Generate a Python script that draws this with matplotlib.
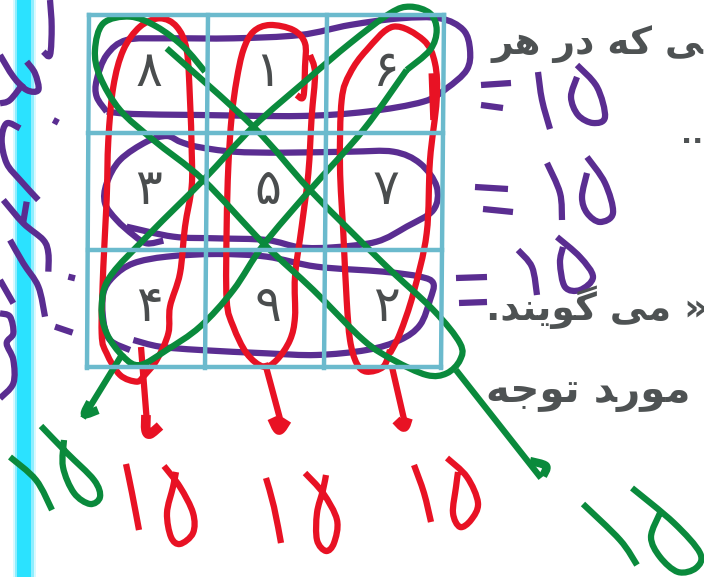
import numpy as np
import matplotlib
matplotlib.use('Agg')
import matplotlib.pyplot as plt
from matplotlib.path import Path
from matplotlib.patches import PathPatch

# digits of the magic square, row by row
digits = [['۸', '۱', '۶'], ['۳', '۵', '۷'], ['۴', '۹', '۲']]
digit_x = [149, 268, 386]
digit_y = [72, 190, 307]

# printed text, glyphs in visual order because matplotlib does no shaping
text_lines = [
    'ﺮﻫ ﺭﺩ ﻪﮐ ﯽ',
    '..',
    '.ﺪﻨﯾﻮﮔ ﯽﻣ »ﺲ',
    'ﻪﺟﻮﺗ ﺪﺭﻮﻣ',
]
text_x = [491, 681, 486, 486]
text_y = [54, 143, 320, 402]
text_size = [27, 21, 27, 29]

# table lines in image pixels
grid_v = [[(89, 15), (87, 368)], [(208, 15), (205, 368)], [(327, 15), (324, 368)], [(444, 15), (441, 368)]]
grid_h = [[(89, 15), (444, 15)], [(88, 133), (443, 133)], [(88, 250), (442, 250)], [(87, 367), (441, 367)]]

# hand strokes inside the table, read at 3x
purple_rows = [
    [(320, 335), (290, 290), (290, 240), (320, 165), (380, 120), (500, 115), (700, 115), (900, 105), (1050, 75),
     (1200, 55), (1320, 55), (1390, 90), (1410, 150), (1400, 210), (1340, 265), (1270, 305), (1100, 335), (900, 348),
     (600, 345), (400, 342), (320, 335)],
    [(490, 722), (440, 730), (400, 705), (350, 660), (315, 610), (320, 550), (360, 480), (440, 425), (500, 408),
     (540, 425), (590, 440), (700, 455), (850, 458), (1050, 455), (1180, 455), (1260, 490), (1310, 560), (1300, 630),
     (1220, 680), (1130, 725), (1000, 742), (900, 742), (800, 720), (650, 715), (520, 710), (380, 680)],
    [(400, 1020), (480, 1040), (600, 1050), (800, 1060), (950, 1065), (1100, 1050), (1200, 1020), (1260, 975),
     (1290, 900), (1300, 850), (1260, 830), (1150, 815), (950, 800), (800, 770), (650, 762), (500, 770), (400, 790),
     (340, 830), (310, 880), (310, 960), (330, 1020), (390, 1050)],
]
red_cols = [
    [(430, 1130), (410, 1145), (360, 1125), (320, 1060), (305, 1000), (310, 800), (320, 600), (325, 420), (340, 260),
     (370, 150), (420, 80), (480, 55), (530, 80), (560, 150), (570, 300), (575, 450), (575, 560), (555, 680),
     (540, 820), (510, 920), (505, 1000), (470, 1080), (430, 1130)],
    [(890, 285), (910, 290), (915, 200), (915, 130), (880, 90), (810, 75), (760, 95), (730, 150), (710, 240),
     (695, 350), (685, 500), (680, 680), (680, 900), (700, 980), (740, 1060), (790, 1100), (830, 1080), (870, 1020),
     (885, 950), (885, 830), (905, 680), (925, 520), (935, 350), (945, 220), (930, 165)],
    [(1170, 1050), (1150, 1100), (1100, 1115), (1070, 1090), (1050, 1020), (1040, 900), (1030, 700), (1020, 500),
     (1025, 300), (1050, 220), (1100, 150), (1180, 80), (1270, 120), (1305, 190), (1310, 300), (1290, 480),
     (1280, 700), (1240, 880), (1200, 1000), (1170, 1060)],
    [(1295, 220), (1300, 360)],
]
green_diags = [
    [(500, 145), (760, 380), (930, 570), (1150, 790), (1300, 930), (1380, 1030), (1380, 1080), (1340, 1120),
     (1280, 1125), (1180, 1080), (1090, 1020), (940, 870), (790, 730), (610, 540), (460, 420), (360, 330), (300, 230),
     (285, 150), (310, 70), (390, 50), (470, 80), (550, 140), (615, 215)],
    [(1220, 210), (1290, 150), (1310, 90), (1290, 40), (1230, 20), (1170, 40), (1050, 130), (920, 240), (760, 380),
     (610, 540), (450, 700), (330, 830), (305, 920), (320, 1000), (370, 1070), (420, 1095), (500, 1050), (600, 980),
     (700, 870), (790, 735), (930, 570), (1090, 390), (1220, 210)],
]
purple_left = [
    [(150, 0), (155, 80), (150, 165), (130, 155)],
    [(0, 165), (40, 230), (80, 270), (115, 270), (105, 220), (80, 185)],
    [(0, 310), (30, 300), (70, 250)],
    [(60, 385), (20, 370), (5, 420), (20, 490), (60, 540), (115, 600)],
    [(10, 600), (70, 670), (130, 720), (145, 760), (145, 815)],
    [(80, 605), (70, 665)],
    [(30, 720), (70, 790), (115, 860), (135, 950)],
    [(0, 840), (40, 910)],
    [(0, 940), (30, 950), (40, 1000), (20, 1030), (40, 1080), (40, 1150), (0, 1195)],
    [(160, 360), (175, 368)],
    [(205, 830), (225, 835)],
    [(165, 980), (218, 998)],
]

# strokes outside the table, in image pixels
purple_marks = [
    [(481, 85), (511, 83)], [(481, 105), (503, 108)],
    [(475, 187), (508, 189)], [(483, 209), (513, 212)],
    [(456, 278), (487, 277)], [(459, 303), (487, 302)],
    [(538, 72), (542, 100), (550, 129)],
    [(577, 65), (597, 87), (605, 117), (593, 123), (578, 115), (571, 97), (577, 77)],
    [(547, 163), (560, 193), (562, 220)],
    [(587, 157), (605, 183), (613, 213), (600, 222), (587, 213), (582, 197), (587, 173)],
    [(518, 250), (532, 267), (537, 295)],
    [(557, 237), (580, 257), (593, 277), (580, 290), (565, 287), (560, 263), (563, 247)],
]
red_marks = [
    [(141, 347), (147, 423)],
    [(265, 363), (283, 430)],
    [(392, 367), (406, 428)],
    [(126, 464), (132, 493), (139, 530)],
    [(164, 466), (180, 487), (193, 513), (193, 533), (180, 544), (171, 537), (167, 513), (173, 487), (176, 472)],
    [(266, 478), (274, 507), (281, 543)],
    [(305, 473), (323, 493), (337, 520), (334, 543), (326, 551), (317, 540), (317, 513), (323, 490), (326, 475)],
    [(414, 465), (424, 493), (431, 522)],
    [(447, 458), (467, 477), (478, 503), (471, 520), (460, 527), (453, 513), (456, 487), (458, 472)],
]
red_heads = [
    [(146, 415), (146, 430), (150, 434), (160, 426)],
    [(272, 418), (279, 430), (287, 420)],
    [(396, 420), (404, 427), (408, 418)],
]
green_marks = [
    [(123, 353), (83, 418)],
    [(456, 370), (541, 478)],
    [(10, 457), (36, 480), (52, 510)],
    [(41, 426), (67, 453), (94, 480), (100, 497), (90, 504), (74, 493), (63, 467), (64, 440)],
    [(583, 504), (620, 540), (637, 565)],
    [(632, 488), (674, 523), (700, 553), (696, 568), (678, 572), (660, 557), (651, 537), (660, 513)],
]
green_heads = [
    [(90, 402), (85, 414), (98, 410)],
    [(530, 461), (546, 466), (543, 476)],
]

PURPLE = '#5a2d91'
RED = '#e81224'
GREEN = '#0a8a3c'


def stroke(ax, pts, color, lw=4.5, scale=1.0):
    # pen line through the read points, catmull-rom as bezier segments
    pts = np.array(pts, dtype=float) / scale
    verts = [pts[0]]
    codes = [Path.MOVETO]
    n = len(pts)
    for i in range(n - 1):
        a = pts[max(i - 1, 0)]
        b = pts[min(i + 2, n - 1)]
        verts += [pts[i] + (pts[i + 1] - a) / 6, pts[i + 1] - (b - pts[i]) / 6, pts[i + 1]]
        codes += [Path.CURVE4, Path.CURVE4, Path.CURVE4]
    ax.add_patch(PathPatch(Path(verts, codes), fc='none', ec=color, lw=lw, capstyle='butt', joinstyle='round'))


fig = plt.figure(figsize=(7.04, 5.77), dpi=100)
ax = fig.add_axes([0, 0, 1, 1])
ax.set_xlim(0, 704)
ax.set_ylim(577, 0)
ax.axis('off')

# blue strip at the page edge, soft on both sides
ax.axvspan(13, 36, color='#d8f9ff', lw=0)
ax.axvspan(15, 34, color='#8eeeff', lw=0)
ax.axvspan(17, 31, color='#2be2ff', lw=0)

for seg in grid_v + grid_h:
    (x0, y0), (x1, y1) = seg
    ax.plot([x0, x1], [y0, y1], color='#6bbacd', lw=3.2, solid_capstyle='projecting')

for r, row in enumerate(digits):
    for c, d in enumerate(row):
        ax.text(digit_x[c], digit_y[r], d, fontsize=36, color='#4a4d4e', ha='center', va='center', family='DejaVu Sans')

for s, x, y, fs in zip(text_lines, text_x, text_y, text_size):
    ax.text(x, y, s, fontsize=fs, fontweight='bold', color='#4e5253', ha='left', va='baseline',
            family='DejaVu Sans', clip_on=True)

for s in purple_rows + purple_left:
    stroke(ax, s, PURPLE, scale=3)
for s in purple_marks:
    stroke(ax, s, PURPLE)
for s in red_cols:
    stroke(ax, s, RED, scale=3)
for s in red_marks:
    stroke(ax, s, RED)
for s in red_heads:
    stroke(ax, s, RED, lw=7)
for s in green_diags:
    stroke(ax, s, GREEN, scale=3)
for s in green_marks:
    stroke(ax, s, GREEN)
for s in green_heads:
    stroke(ax, s, GREEN, lw=6)

fig.savefig('out.png', dpi=100)
